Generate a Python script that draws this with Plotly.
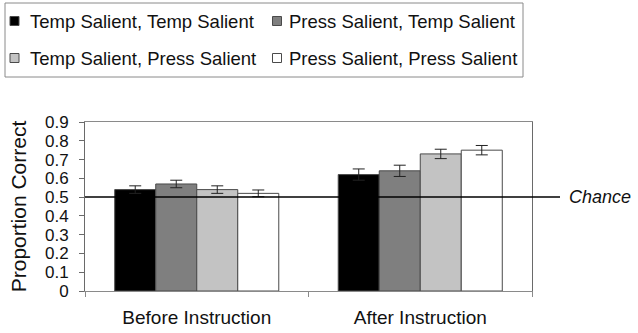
import plotly.graph_objects as go

# ---- data ----
categories = ["Before Instruction", "After Instruction"]
series_names = [
    "Temp Salient, Temp Salient",
    "Press Salient, Temp Salient",
    "Temp Salient, Press Salient",
    "Press Salient, Press Salient",
]
temp_temp = [0.54, 0.62]
press_temp = [0.57, 0.64]
temp_press = [0.54, 0.73]
press_press = [0.52, 0.75]
temp_temp_err = [0.02, 0.03]
press_temp_err = [0.02, 0.03]
temp_press_err = [0.02, 0.025]
press_press_err = [0.018, 0.025]
chance_level = 0.5
y_ticks = [0, 0.1, 0.2, 0.3, 0.4, 0.5, 0.6, 0.7, 0.8, 0.9]
y_tick_labels = ["0", "0.1", "0.2", "0.3", "0.4", "0.5", "0.6", "0.7", "0.8", "0.9"]

values = [temp_temp, press_temp, temp_press, press_press]
errors = [temp_temp_err, press_temp_err, temp_press_err, press_press_err]
colors = ["#000000", "#7f7f7f", "#c3c3c3", "#ffffff"]

FONT = "Liberation Sans, Arial, sans-serif"
TXT = "#111111"
W, H = 638, 333
L, R, T, B = 85, 106, 122, 42
pw, ph = W - L - R, H - T - B


def xp(px):
    return (px - L) / pw


def yp(py):
    return (H - B - py) / ph


fig = go.Figure()
for name, vals, errs, col in zip(series_names, values, errors, colors):
    fig.add_trace(go.Bar(
        x=categories, y=vals, name=name, showlegend=False,
        marker=dict(color=col, line=dict(color="#4a4a4a", width=1)),
        error_y=dict(type="data", array=errs, visible=True, color="#222222",
                     thickness=1, width=6),
    ))

# chance reference line and its label
fig.add_shape(type="line", xref="paper", yref="y", x0=0, x1=xp(560),
              y0=chance_level, y1=chance_level, layer="above",
              line=dict(color="#000000", width=1.5))
fig.add_annotation(xref="paper", yref="y", x=xp(567), y=chance_level,
                   text="<i>Chance</i>", showarrow=False, xanchor="left",
                   yanchor="middle", font=dict(size=18, family=FONT, color=TXT))

# legend box (2 x 2 entries)
fig.add_shape(type="rect", xref="paper", yref="paper",
              x0=xp(5), x1=xp(523), y0=yp(77), y1=yp(3),
              line=dict(color="#8a8a8a", width=1), fillcolor="white", layer="below")
col_sym = [14.5, 277]
col_txt = [28, 287]
row_y = [21, 58]
for i, (name, col) in enumerate(zip(series_names, colors)):
    r, c = divmod(i, 2)
    fig.add_shape(type="rect", xref="paper", yref="paper",
                  x0=xp(col_sym[c] - 4.5), x1=xp(col_sym[c] + 4.5),
                  y0=yp(row_y[r] + 4.5), y1=yp(row_y[r] - 4.5),
                  fillcolor=col, line=dict(color="#4a4a4a", width=1))
    fig.add_annotation(xref="paper", yref="paper", x=xp(col_txt[c]), y=yp(row_y[r]),
                       text=name, showarrow=False, xanchor="left", yanchor="middle",
                       font=dict(size=18.5, family=FONT, color=TXT))

fig.update_layout(
    width=W, height=H,
    margin=dict(l=L, r=R, t=T, b=B, autoexpand=False),
    paper_bgcolor="white", plot_bgcolor="white",
    barmode="group", bargap=0.266, bargroupgap=0,
    font=dict(family=FONT, color=TXT),
    showlegend=False,
    xaxis=dict(
        showline=True, linecolor="#8a8a8a", linewidth=1, mirror=True,
        ticks="outside", tickson="boundaries", ticklen=5, tickcolor="#8a8a8a",
        tickfont=dict(size=19, family=FONT, color=TXT), ticklabelstandoff=9,
        showgrid=False, automargin=False,
    ),
    yaxis=dict(
        range=[0, 0.9], tickvals=y_ticks, ticktext=y_tick_labels,
        showline=True, linecolor="#6a6a6a", linewidth=1, mirror=True,
        ticks="outside", ticklen=5, tickcolor="#6a6a6a",
        tickfont=dict(size=17, family=FONT, color=TXT), ticklabelstandoff=7,
        showgrid=False, zeroline=False, automargin=False,
        title=dict(text="Proportion Correct", standoff=12,
                   font=dict(size=21, family=FONT, color=TXT)),
    ),
)

fig.write_html("out.html")
